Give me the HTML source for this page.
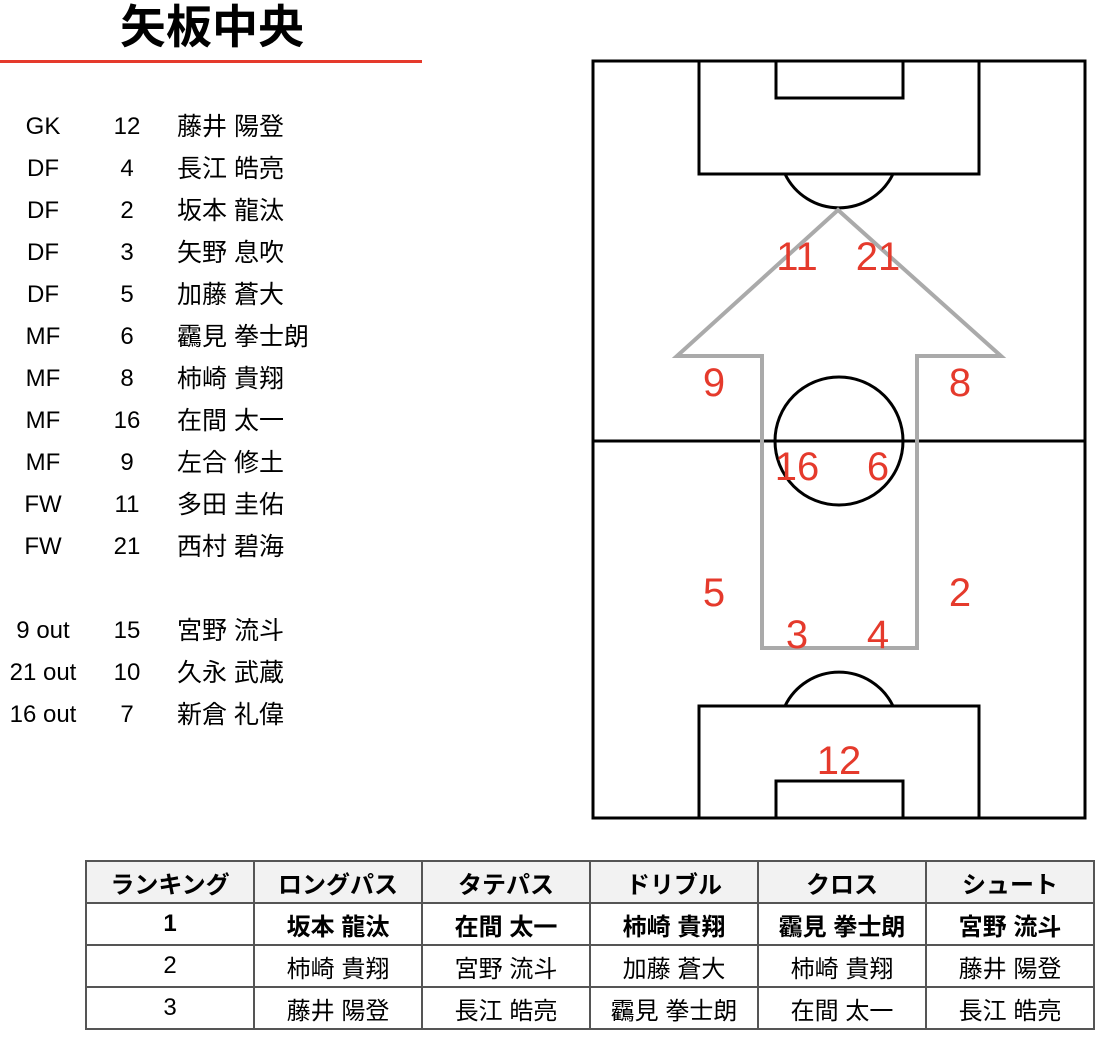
<!DOCTYPE html>
<html><head><meta charset="utf-8"><style>
body{margin:0;width:1102px;height:1042px;background:#fff;position:relative;overflow:hidden;font-family:"Liberation Sans","Noto Sans CJK JP",sans-serif;color:#000}
.t{position:absolute;white-space:nowrap}
.title{left:0;width:424px;top:0;text-align:center;font-size:46px;font-weight:bold;line-height:54px}
.rl{position:absolute;left:0;top:60px;width:422px;height:3px;background:#e53a2c}
.r{position:absolute;left:0;height:42px;line-height:42px;font-size:25px}
.r span{position:absolute;white-space:nowrap}
.p{left:0;width:86px;text-align:center;font-size:24px}
.n{left:97px;width:60px;text-align:center;font-size:24px}
.nm{left:177px}
table{position:absolute;left:85px;top:860px;border-collapse:collapse;font-size:24px;table-layout:fixed;width:1009px}
td,th{border:2px solid #555;width:166px;height:40px;text-align:center;padding:0}
th{background:#f2f2f2}
</style></head><body>
<div class="t title">矢板中央</div>
<div class="rl"></div>
<div class="r" style="top:106px"><span class="p">GK</span><span class="n">12</span><span class="nm">藤井 陽登</span></div>
<div class="r" style="top:148px"><span class="p">DF</span><span class="n">4</span><span class="nm">長江 皓亮</span></div>
<div class="r" style="top:190px"><span class="p">DF</span><span class="n">2</span><span class="nm">坂本 龍汰</span></div>
<div class="r" style="top:232px"><span class="p">DF</span><span class="n">3</span><span class="nm">矢野 息吹</span></div>
<div class="r" style="top:274px"><span class="p">DF</span><span class="n">5</span><span class="nm">加藤 蒼大</span></div>
<div class="r" style="top:316px"><span class="p">MF</span><span class="n">6</span><span class="nm">靏見 拳士朗</span></div>
<div class="r" style="top:358px"><span class="p">MF</span><span class="n">8</span><span class="nm">柿崎 貴翔</span></div>
<div class="r" style="top:400px"><span class="p">MF</span><span class="n">16</span><span class="nm">在間 太一</span></div>
<div class="r" style="top:442px"><span class="p">MF</span><span class="n">9</span><span class="nm">左合 修土</span></div>
<div class="r" style="top:484px"><span class="p">FW</span><span class="n">11</span><span class="nm">多田 圭佑</span></div>
<div class="r" style="top:526px"><span class="p">FW</span><span class="n">21</span><span class="nm">西村 碧海</span></div>
<div class="r" style="top:610px"><span class="p">9 out</span><span class="n">15</span><span class="nm">宮野 流斗</span></div>
<div class="r" style="top:652px"><span class="p">21 out</span><span class="n">10</span><span class="nm">久永 武蔵</span></div>
<div class="r" style="top:694px"><span class="p">16 out</span><span class="n">7</span><span class="nm">新倉 礼偉</span></div>

<svg style="position:absolute;left:0;top:0" width="1102" height="1042">
<g fill="none" stroke="#000" stroke-width="3">
<rect x="593" y="61" width="492" height="757"/>
<line x1="593" y1="441" x2="1085" y2="441"/>
<circle cx="839" cy="441" r="64"/>
<rect x="699" y="61" width="280" height="113"/>
<rect x="776" y="61" width="127" height="37"/>
<path d="M785 174 A60 60 0 0 0 893 174"/>
<rect x="699" y="706" width="280" height="112"/>
<rect x="776" y="781" width="127" height="37"/>
<path d="M785 706 A60 60 0 0 1 893 706"/>
</g>
<polygon points="838,210 677,356 762,356 762,648 917,648 917,356 1001,356" fill="none" stroke="#aaa" stroke-width="4"/>
<g fill="#e53a2c" font-size="40" text-anchor="middle" font-family="Liberation Sans, sans-serif">
<text x="797" y="270">11</text><text x="878" y="270">21</text>
<text x="714" y="396">9</text><text x="960" y="396">8</text>
<text x="797" y="480">16</text><text x="878" y="480">6</text>
<text x="714" y="606">5</text><text x="960" y="606">2</text>
<text x="797" y="648">3</text><text x="878" y="648">4</text>
<text x="839" y="774">12</text>
</g>
</svg>

<table>
<tr><th>ランキング</th><th>ロングパス</th><th>タテパス</th><th>ドリブル</th><th>クロス</th><th>シュート</th></tr>
<tr style="font-weight:bold"><td>1</td><td>坂本 龍汰</td><td>在間 太一</td><td>柿崎 貴翔</td><td>靏見 拳士朗</td><td>宮野 流斗</td></tr>
<tr><td>2</td><td>柿崎 貴翔</td><td>宮野 流斗</td><td>加藤 蒼大</td><td>柿崎 貴翔</td><td>藤井 陽登</td></tr>
<tr><td>3</td><td>藤井 陽登</td><td>長江 皓亮</td><td>靏見 拳士朗</td><td>在間 太一</td><td>長江 皓亮</td></tr>
</table>
</body></html>
